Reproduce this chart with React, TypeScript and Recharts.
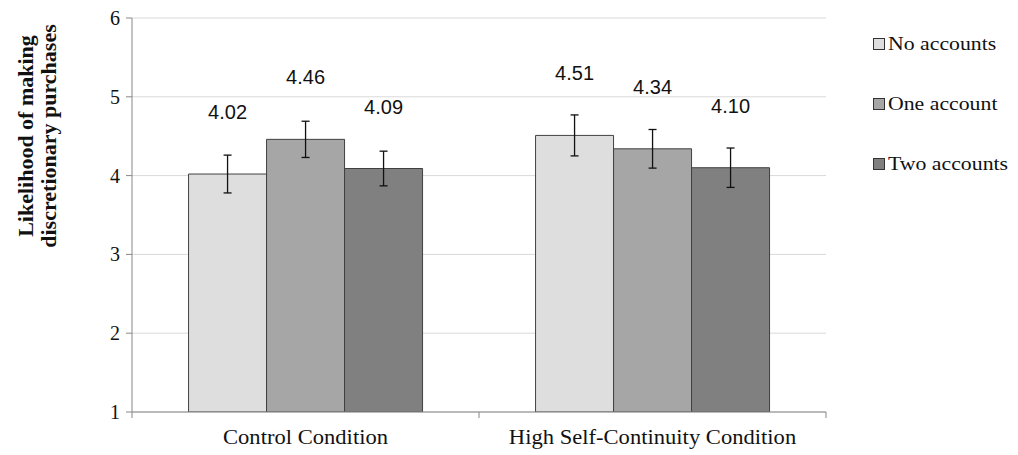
import React from 'react';
import { BarChart, Bar, XAxis, YAxis, CartesianGrid, ErrorBar, LabelList } from 'recharts';

const categories = ['Control Condition', 'High Self-Continuity Condition'];
const seriesNames = ['No accounts', 'One account', 'Two accounts'];
const noAccounts = [4.02, 4.51];
const oneAccount = [4.46, 4.34];
const twoAccounts = [4.09, 4.10];
const errNo = [0.24, 0.26];
const errOne = [0.23, 0.245];
const errTwo = [0.22, 0.25];
const yTicks = [1, 2, 3, 4, 5, 6];

const colors = ['#dedede', '#a6a6a6', '#808080'];
const SERIF = "'Liberation Serif', 'Times New Roman', serif";
const SANS = "'Liberation Sans', Arial, sans-serif";

const data = categories.map((c, i) => ({
  name: c,
  no: noAccounts[i],
  one: oneAccount[i],
  two: twoAccounts[i],
  eNo: errNo[i],
  eOne: errOne[i],
  eTwo: errTwo[i],
}));

const ValueLabel = (props: any) => {
  const { x, y, width, value } = props;
  return (
    <text x={x + width / 2} y={y - 62} textAnchor="middle" dominantBaseline="central"
      fontFamily={SANS} fontSize={20} fill="#111">
      {Number(value).toFixed(2)}
    </text>
  );
};

const CatTick = (props: any) => {
  const { x, y, payload, index } = props;
  const half = payload && payload.offset ? payload.offset : 173.5;
  return (
    <g>
      <line x1={x - half} y1={y - 8} x2={x - half} y2={y - 2} stroke="#888" />
      {index === categories.length - 1 && (
        <line x1={x + half} y1={y - 8} x2={x + half} y2={y - 2} stroke="#888" />
      )}
      <text transform={`translate(${x} ${y + 17}) scale(1.13 1)`} x={0} y={0} textAnchor="middle" dominantBaseline="central"
        fontFamily={SERIF} fontSize={20} fill="#111">
        {payload.value}
      </text>
    </g>
  );
};

const YTick = (props: any) => {
  const { x, y, payload } = props;
  return (
    <text x={x - 4} y={y} textAnchor="end" dominantBaseline="central"
      fontFamily={SERIF} fontSize={20} fill="#111">
      {payload.value}
    </text>
  );
};

export default function App() {
  return (
    <div style={{ position: 'absolute', left: 0, top: 0, width: 1018, height: 455, background: '#fff' }}>
      <BarChart width={1018} height={455} data={data}
        margin={{ top: 18, right: 192, left: 0, bottom: 0 }}
        barCategoryGap="16.3%" barGap={0}>
        <CartesianGrid vertical={false} stroke="#d9d9d9" />
        <XAxis dataKey="name" height={43} axisLine={{ stroke: '#888' }} tickLine={false}
          tick={<CatTick />} interval={0} />
        <YAxis domain={[1, 6]} ticks={yTicks} width={132} axisLine={{ stroke: '#888' }}
          tickLine={{ stroke: '#888' }} tickSize={6} tick={<YTick />} allowDataOverflow />
        <Bar dataKey="no" name={seriesNames[0]} fill={colors[0]} stroke="#404040" strokeWidth={1} isAnimationActive={false}>
          <ErrorBar dataKey="eNo" width={4} stroke="#111" strokeWidth={1.3} direction="y" />
          <LabelList dataKey="no" content={<ValueLabel />} />
        </Bar>
        <Bar dataKey="one" name={seriesNames[1]} fill={colors[1]} stroke="#404040" strokeWidth={1} isAnimationActive={false}>
          <ErrorBar dataKey="eOne" width={4} stroke="#111" strokeWidth={1.3} direction="y" />
          <LabelList dataKey="one" content={<ValueLabel />} />
        </Bar>
        <Bar dataKey="two" name={seriesNames[2]} fill={colors[2]} stroke="#404040" strokeWidth={1} isAnimationActive={false}>
          <ErrorBar dataKey="eTwo" width={4} stroke="#111" strokeWidth={1.3} direction="y" />
          <LabelList dataKey="two" content={<ValueLabel />} />
        </Bar>
      </BarChart>
      <div style={{ position: 'absolute', left: 873, top: 14, fontFamily: SERIF, fontSize: 18, color: '#111' }}>
        {seriesNames.map((n, i) => (
          <div key={n} style={{ display: 'flex', alignItems: 'center', height: 60 }}>
            <span style={{ display: 'inline-block', width: 10, height: 10, background: colors[i], border: '1px solid #333', marginRight: 3 }} />
            <span style={{ display: 'inline-block', transform: 'scaleX(1.21)', transformOrigin: 'left center', whiteSpace: 'nowrap' }}>{n}</span>
          </div>
        ))}
      </div>
      <div style={{ position: 'absolute', left: 37, top: 136, transform: 'translate(-50%, -50%) rotate(-90deg)', whiteSpace: 'nowrap', textAlign: 'center', fontFamily: SERIF, fontWeight: 'bold', fontSize: 22, lineHeight: '23px', color: '#111' }}>
        Likelihood of making<br />discretionary purchases
      </div>
    </div>
  );
}
